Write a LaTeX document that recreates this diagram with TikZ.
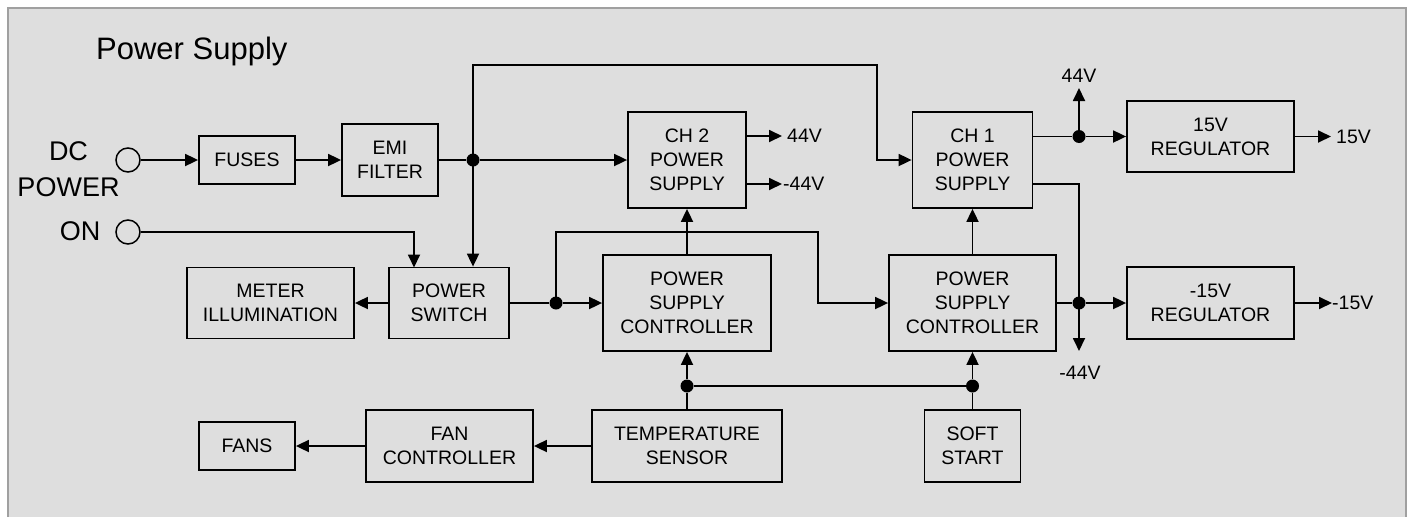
\documentclass[tikz,border=0pt]{standalone}
\usepackage{fontspec}
\setmainfont{Liberation Sans}
\usetikzlibrary{arrows.meta}
\definecolor{bgc}{RGB}{222,222,222}
\definecolor{framec}{RGB}{160,160,160}
\newcommand\bxf{\fontsize{19.5}{24}\selectfont}
\newcommand\bigf{\fontsize{27}{36}\selectfont}
\begin{document}
\begin{tikzpicture}[x=1pt,y=-1pt,
  box/.style={draw,line width=1.8pt,align=center,font=\bxf,inner sep=0pt},
  term/.style={circle,draw,line width=1.5pt,minimum size=24pt,inner sep=0pt},
  dot/.style={circle,fill=black,inner sep=0pt,minimum size=13pt},
  lbl/.style={font=\bxf,inner sep=0pt},
  ln/.style={line width=1.8pt},
  arr/.style={line width=1.8pt,-{Triangle[length=13pt,width=12pt]}}]
\useasboundingbox (0,0) rectangle (1413,517);
\fill[white] (0,0) rectangle (1413,517);
\fill[bgc] (8.3,8.3) rectangle (1406,517);
\draw[framec,line width=2pt] (8.3,517) -- (8.3,8.3) -- (1406,8.3) -- (1406,517);

% labels
\node[anchor=base west,font=\fontsize{31}{36}\selectfont,inner sep=0pt] (title) at (96,59) {Power Supply};
\node[align=center,font=\bigf,inner sep=0pt] (dclbl) at (68.5,169.5) {DC\\POWER};
\node[anchor=east,font=\bigf,inner sep=0pt] (onlbl) at (100.5,231) {ON};
\node[term] (dc) at (128,160) {};
\node[term] (on) at (128,232) {};

% boxes
\node[box,minimum width=96pt,minimum height=48pt] (fuses) at (247,160) {FUSES};
\node[box,minimum width=96pt,minimum height=72pt] (emi) at (390,160) {EMI\\FILTER};
\node[box,minimum width=118pt,minimum height=96pt] (ch2) at (687,160) {CH 2\\POWER\\SUPPLY};
\node[box,minimum width=120pt,minimum height=96pt] (ch1) at (972.5,160) {CH 1\\POWER\\SUPPLY};
\node[box,minimum width=167pt,minimum height=71pt] (reg15) at (1210.5,136.5) {15V\\REGULATOR};
\node[box,minimum width=167pt,minimum height=72pt] (regm15) at (1210.5,303) {-15V\\REGULATOR};
\node[box,minimum width=120pt,minimum height=71pt] (psw) at (449,303) {POWER\\SWITCH};
\node[box,minimum width=167pt,minimum height=71pt] (meter) at (270.5,303) {METER\\ILLUMINATION};
\node[box,minimum width=168pt,minimum height=96pt] (psc1) at (687,303) {POWER\\SUPPLY\\CONTROLLER};
\node[box,minimum width=167pt,minimum height=96pt] (psc2) at (972.5,303) {POWER\\SUPPLY\\CONTROLLER};
\node[box,minimum width=190pt,minimum height=72pt] (temp) at (687,446) {TEMPERATURE\\SENSOR};
\node[box,minimum width=167pt,minimum height=72pt] (fanc) at (449.5,446) {FAN\\CONTROLLER};
\node[box,minimum width=96pt,minimum height=48pt] (fans) at (247,446) {FANS};
\node[box,minimum width=96pt,minimum height=72pt] (soft) at (972.5,446) {SOFT\\START};

% junction dots
\node[dot] (d1) at (473,160) {};
\node[dot] (d2) at (556,303) {};
\node[dot] (d3) at (1079,136.5) {};
\node[dot] (d4) at (1079,303) {};
\node[dot] (d5) at (687,386) {};
\node[dot] (d6) at (972.5,386) {};

% free ends
\coordinate (c2a) at (782,136);
\coordinate (c2b) at (782,184);
\coordinate (p44) at (1079,88);
\coordinate (c1b) at (1079,184);
\coordinate (m44) at (1079,351);
\coordinate (o15) at (1331,136.5);
\coordinate (om15) at (1332,303);

% output labels
\node[lbl,anchor=west] (l44a) at (787,136) {44V};
\node[lbl,anchor=west] (l44b) at (783,184) {-44V};
\node[lbl] (l44c) at (1079,76) {44V};
\node[lbl] (l44d) at (1080,373) {-44V};
\node[lbl,anchor=west] (l15) at (1336,136.5) {15V};
\node[lbl,anchor=west] (lm15) at (1332,303) {-15V};

% connectors
\draw[arr] (dc) -- (fuses);
\draw[arr] (fuses) -- (emi);
\draw[ln] (emi) -- (d1);
\draw[arr] (d1) -- (ch2);
\draw[arr] (d1.center) |- (877,65) -- (877,160) -- (ch1.west);
\draw[arr] (d1.center) -- (d1.center |- psw.north);
\draw[arr] (on.east) -| (414,267.5);
\draw[arr] (psw) -- (meter);
\draw[ln] (psw) -- (d2);
\draw[arr] (d2) -- (psc1);
\draw[arr] (d2.center) |- (818,232) -- (818,303) -- (psc2.west);
\draw[arr] (psc1) -- (ch2);
\draw[arr] (psc2) -- (ch1);
\draw[arr] (ch2.east |- c2a) -- (c2a);
\draw[arr] (ch2.east |- c2b) -- (c2b);
\draw[ln] (ch1.east |- d3) -- (d3);
\draw[arr] (d3) -- (reg15);
\draw[arr] (d3.center) -- (p44);
\draw[ln] (ch1.east |- c1b) -- (c1b) -- (d4.center);
\draw[arr] (d4.center) -- (m44);
\draw[ln] (psc2) -- (d4);
\draw[arr] (d4) -- (regm15);
\draw[arr] (reg15) -- (o15);
\draw[arr] (regm15) -- (om15);
\draw[ln] (temp) -- (d5);
\draw[arr] (d5) -- (psc1);
\draw[ln] (d5) -- (d6);
\draw[ln] (soft) -- (d6);
\draw[arr] (d6) -- (psc2);
\draw[arr] (temp) -- (fanc);
\draw[arr] (fanc) -- (fans);
\end{tikzpicture}
\end{document}
